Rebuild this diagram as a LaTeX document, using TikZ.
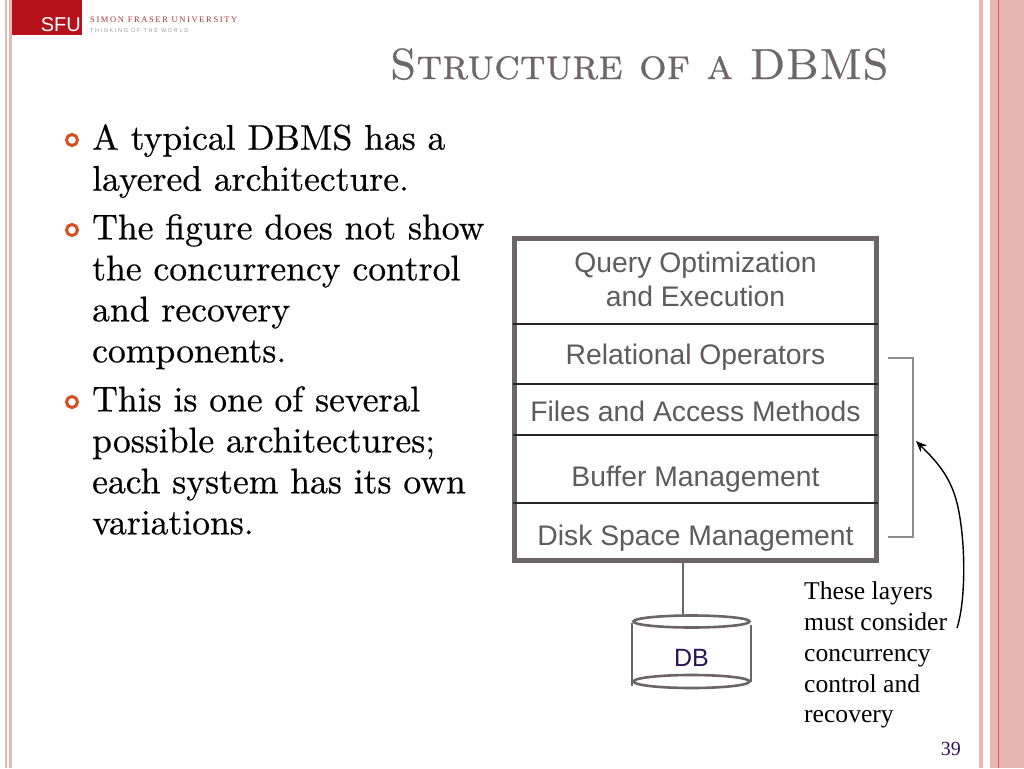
\documentclass[tikz,border=0pt]{standalone}
\usepackage{fontspec}
\setmainfont[FakeBold=0.5]{lmroman10-regular.otf}
\newfontfamily\capsfont[FakeBold=0.6]{lmromancaps10-regular.otf}
\newfontfamily\timesfont{Liberation Serif}
\newfontfamily\arialfont{Liberation Sans}
\usetikzlibrary{arrows.meta,positioning}
\definecolor{sfured}{HTML}{B5121B}
\definecolor{stripepink}{HTML}{E8B7B2}
\definecolor{framegrey}{HTML}{6B6567}
\definecolor{layertext}{HTML}{5F5A5C}
\definecolor{titlegrey}{HTML}{6E6769}
\definecolor{bulletorange}{HTML}{D2501E}
\definecolor{dbtext}{HTML}{2A1458}
\tikzset{
    bodytext/.style={anchor=north west,align=left,inner sep=0pt,text width=420pt,
        font=\fontsize{35.6}{41}\selectfont},
    bulletmark/.style={circle,draw=bulletorange,line width=3pt,minimum size=11pt,inner sep=0pt},
    layerbox/.style={inner sep=0pt,align=center,text=layertext,
        font=\arialfont\fontsize{28.3}{34}\selectfont},
    sepline/.style={black!85,line width=1.3pt},
    bracketline/.style={black!45,line width=1.4pt},
    dbline/.style={framegrey,line width=2.6pt},
}
\begin{document}
\begin{tikzpicture}[x=1pt,y=-1pt]
    \useasboundingbox (0,0) rectangle (1024,768);
    \fill[white] (0,0) rectangle (1024,768);

    % Bandes
    \fill[stripepink] (5,0) rectangle (7,768);
    \fill[stripepink] (9,0) rectangle (12,768);
    \fill[stripepink] (979,0) rectangle (983,768);
    \fill[stripepink] (990,0) rectangle (1024,768);
    \fill[red!60!stripepink] (998,0) rectangle (999,768);

    % Logo
    \fill[sfured] (12,0) rectangle (82,35);
    \node[anchor=base east,inner sep=0pt,text=white,font=\arialfont\fontsize{20}{20}\selectfont] (logo) at (81,32) {SFU};
    \node[anchor=base west,inner sep=0pt,text=sfured!70!gray,font=\timesfont\fontsize{8.5}{9}\selectfont] (logoname) at (90,22.5)
        {\addfontfeature{LetterSpace=19}SIMON FRASER UNIVERSITY};
    \node[anchor=base west,inner sep=0pt,text=gray!80,font=\arialfont\fontsize{5.5}{6}\selectfont] (logosub) at (90,33)
        {\addfontfeature{LetterSpace=30}THINKING OF THE WORLD};

    % Titre
    \node[anchor=base east,inner sep=0pt,text=titlegrey,font=\capsfont\fontsize{43.5}{44}\selectfont] (title) at (889,79)
        {Structure of a DBMS};

    % Texte
    \node[bodytext] (parone) at (92,124) {A typical DBMS has a\\layered architecture.};
    \node[bodytext] (partwo) at (92,214) {The figure does not show\\the concurrency control\\and recovery\\components.};
    \node[bodytext] (parthree) at (92,386) {This is one of several\\possible architectures;\\each system has its own\\variations.};
    \node[bulletmark] (bulone) at (72,140) {};
    \node[bulletmark] (bultwo) at (72,230) {};
    \node[bulletmark] (bulthree) at (72,402) {};

    % Couches
    \node[layerbox] (query) at (695.5,279) {Query Optimization\\and Execution};
    \node[layerbox] (relop) at (695.5,357) {Relational Operators};
    \node[layerbox] (files) at (695.5,411) {Files and Access Methods};
    \node[layerbox] (buffer) at (695.5,479) {Buffer Management};
    \node[layerbox] (disk) at (695.5,538) {Disk Space Management};
    \draw[framegrey,line width=5pt] (514.5,238.5) rectangle (876.5,560);
    \foreach \ysep in {324,384,435,503} {
        \draw[sepline] (513,\ysep) -- (878,\ysep);
    }

    % Base
    \node[inner sep=0pt,text=dbtext,font=\arialfont\fontsize{25}{25}\selectfont] (db) at (691.5,658) {DB};
    \coordinate (dbtop) at (683,615);
    \coordinate (framebot) at (683,560);
    \draw[dbline] (framebot) -- (dbtop);
    \draw[dbline] (691.5,621.5) ellipse (58pt and 6pt);
    \draw[dbline] (691.5,681.5) ellipse (58pt and 6.5pt);
    \draw[dbline] (632,623) -- (632,686);
    \draw[dbline] (751,625) -- (751,682);

    % Accolade
    \coordinate (brtop) at (888,358);
    \coordinate (brbot) at (888,537);
    \coordinate (brtarget) at (916,441);
    \coordinate (arrowstart) at (957,628);
    \draw[bracketline] (brtop) -- (913,358) -- (913,537) -- (brbot);
    \draw[-{Stealth[length=11pt,width=9pt]},black,line width=1.4pt] (arrowstart)
        .. controls (966,600) and (966,540) .. (957,503)
        .. controls (950,475) and (935,460) .. (brtarget);
    \node[anchor=north west,align=left,inner sep=0pt,font=\timesfont\fontsize{25.6}{30.7}\selectfont] (note) at (804,582)
        {These layers\\must consider\\concurrency\\control and\\recovery};

    \node[anchor=base east,inner sep=0pt,text=dbtext,font=\timesfont\fontsize{20}{20}\selectfont] (pagenum) at (961,755) {39};
\end{tikzpicture}
\end{document}
